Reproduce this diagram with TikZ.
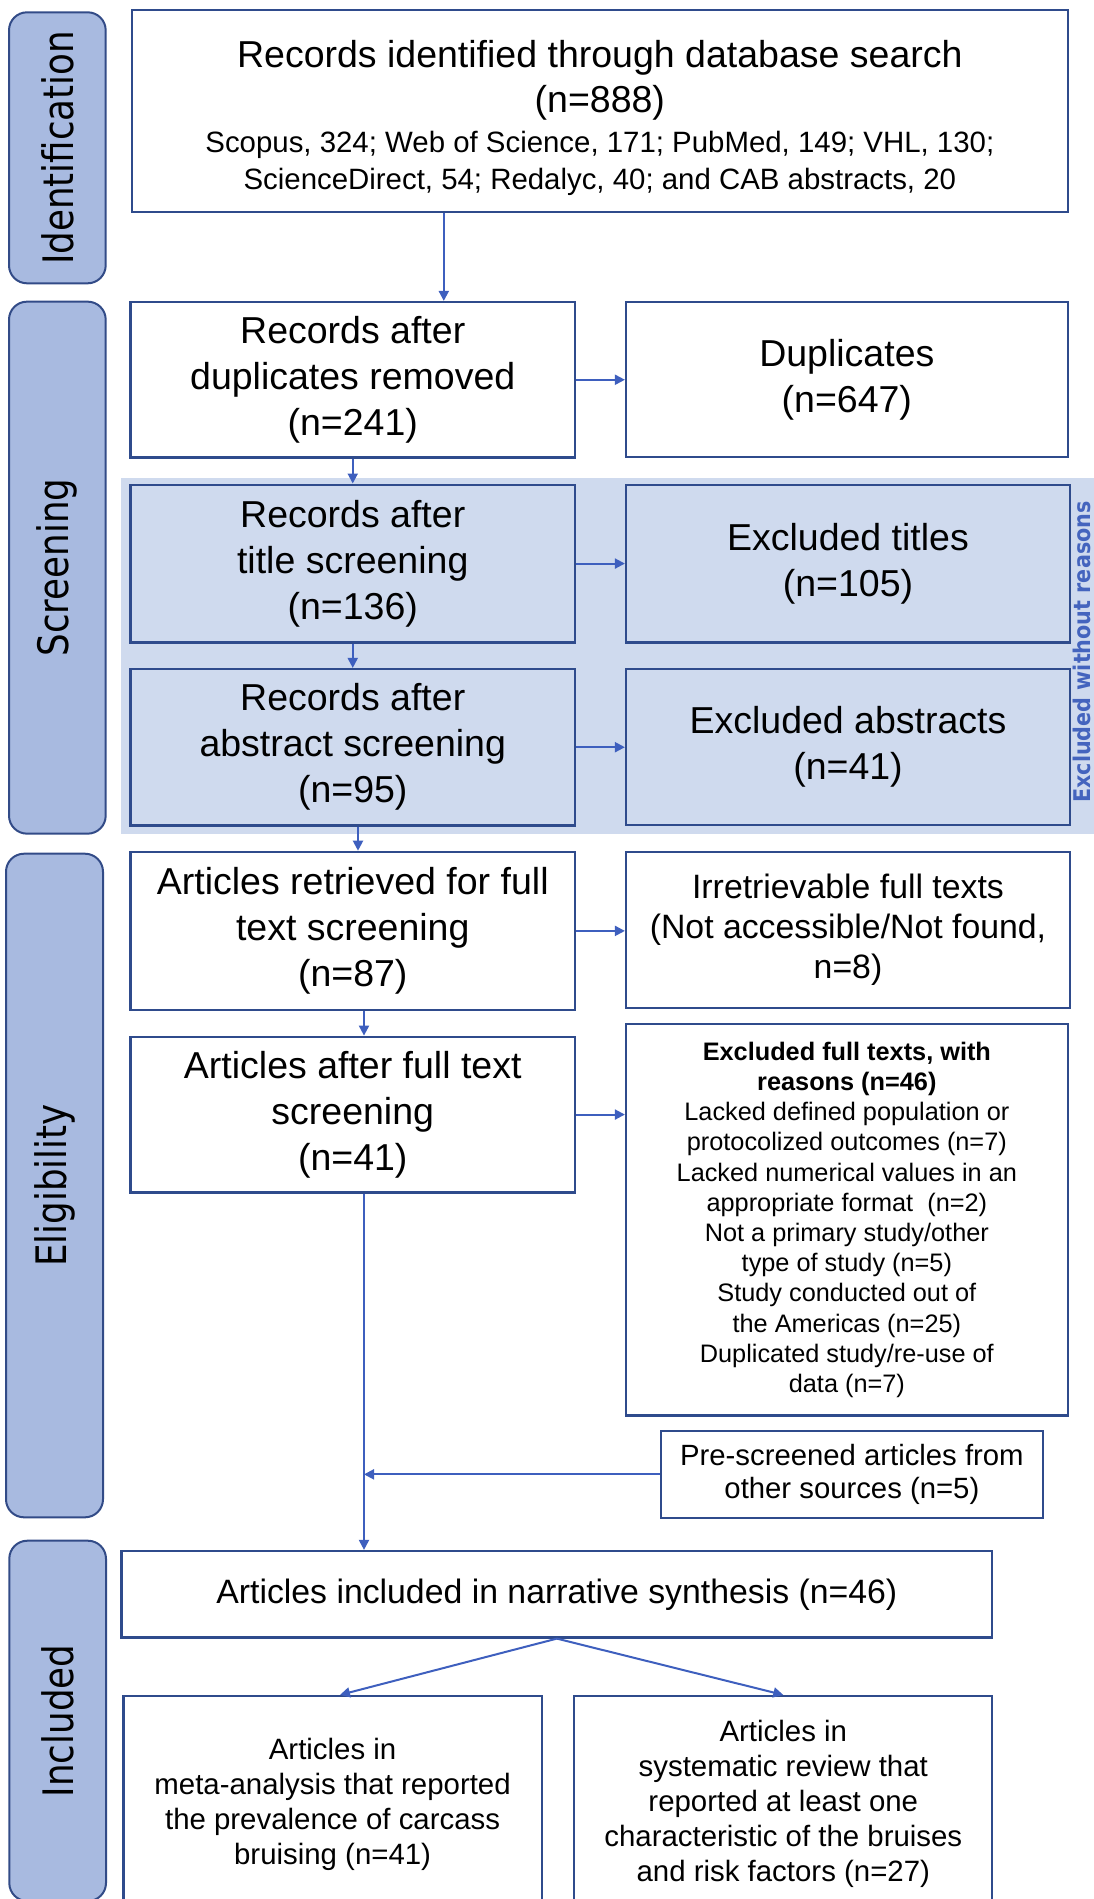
\documentclass[tikz,border=0pt]{standalone}
\usepackage{fontspec}
\setmainfont{Liberation Sans}
\newfontfamily\sidef{DejaVu Sans}
\usetikzlibrary{arrows.meta,calc}
\definecolor{boxc}{RGB}{47,75,140}
\definecolor{arrc}{RGB}{62,95,190}
\definecolor{labfill}{RGB}{168,186,224}
\definecolor{labdraw}{RGB}{50,75,135}
\definecolor{shadec}{RGB}{207,218,238}
\definecolor{exwr}{RGB}{68,100,190}
\newcommand\fmain{\fontsize{37.5}{46}\selectfont}
\newcommand\fsmall{\fontsize{29.4}{37}\selectfont}
\newcommand\fmid{\fontsize{33.8}{40}\selectfont}
\newcommand\fexc{\fontsize{25.3}{30.2}\selectfont}
\newcommand\fps{\fontsize{29.3}{33}\selectfont}
\newcommand\fbot{\fontsize{29.4}{35}\selectfont}
\newcommand\fside{\sidef\fontsize{42}{50}\selectfont}
\tikzset{
  box/.style={draw=boxc, line width=2.2pt, inner sep=0pt, align=center, text=black, font=\fmain},
  wbox/.style={box, fill=white},
  lab/.style={draw=labdraw, line width=2pt, fill=labfill, rounded corners=18pt, inner sep=0pt},
  labtext/.style={rotate=90, inner sep=0pt, font=\fside, text=black},
  arr/.style={draw=arrc, line width=2pt, -{Triangle[width=10pt,length=10pt]}}
}
\begin{document}
\begin{tikzpicture}[x=1pt,y=-1pt]
\useasboundingbox (0,0) rectangle (1094,1899);
\clip (0,0) rectangle (1094,1899);
% side labels
\node[lab, minimum width=96.7pt, minimum height=271pt] (lid) at (57.35,147.8) {};
\node[labtext] (lidt) at (lid.center) {\scalebox{0.85}[1]{Identification}};
\node[lab, minimum width=96.7pt, minimum height=532pt] (lscr) at (57.35,567.65) {};
\node[labtext] (lscrt) at (lscr.center) {\scalebox{0.85}[1]{Screening}};
\node[lab, minimum width=97pt, minimum height=663.6pt] (lel) at (54.5,1185.5) {};
\node[labtext] (lelt) at (lel.center) {\scalebox{0.85}[1]{Eligibility}};
\node[lab, minimum width=96.7pt, minimum height=360.3pt] (linc) at (57.65,1720.85) {};
\node[labtext] (linct) at (linc.center) {\scalebox{0.85}[1]{Included}};
% shaded band
\node[fill=shadec, inner sep=0pt, minimum width=980pt, minimum height=356.5pt, anchor=north west] (band) at (120.7,477.5) {};
\node[rotate=90, inner sep=0pt, text=exwr, font=\sidef\bfseries\fontsize{23}{28}\selectfont] (exwrt) at (1082,652) {\scalebox{0.9}[1]{Excluded without reasons}};
% boxes
\node[wbox, minimum width=935.7pt, minimum height=202pt] (top) at (599.85,111) {};
\node[inner sep=0pt, align=center, font=\fmain] (topt) at ($(top.center)+(0,7)$)
  {Records identified through database search\\[-1pt](n=888)\\[-6pt]\fsmall Scopus, 324; Web of Science, 171; PubMed, 149; VHL, 130;\\[-9pt]\fsmall ScienceDirect, 54; Redalyc, 40; and CAB abstracts, 20};
\node[wbox, minimum width=444.5pt, minimum height=155.5pt] (b1) at (352.75,379.75)
  {Records after\\duplicates removed\\(n=241)};
\node[wbox, minimum width=441.7pt, minimum height=155pt] (b1r) at (846.85,379.5)
  {Duplicates\\(n=647)};
\node[box, minimum width=444.5pt, minimum height=157.9pt] (b2) at (352.75,563.55)
  {Records after\\title screening\\(n=136)};
\node[box, minimum width=444pt, minimum height=157.9pt] (b2r) at (848,563.55)
  {Excluded titles\\(n=105)};
\node[box, minimum width=444.5pt, minimum height=156.4pt] (b3) at (352.75,747.2)
  {Records after\\abstract screening\\(n=95)};
\node[box, minimum width=444pt, minimum height=156pt] (b3r) at (848,747)
  {Excluded abstracts\\(n=41)};
\node[wbox, minimum width=444.5pt, minimum height=158.2pt] (b4) at (352.75,930.9)
  {Articles retrieved for full\\text screening\\(n=87)};
\node[wbox, minimum width=444pt, minimum height=156pt, font=\fmid] (b4r) at (848,930)
  {Irretrievable full texts\\(Not accessible/Not found,\\n=8)};
\node[wbox, minimum width=444.5pt, minimum height=155.7pt] (b5) at (352.75,1114.55)
  {Articles after full text\\screening\\(n=41)};
\node[wbox, minimum width=441.7pt, minimum height=391.5pt, font=\fexc] (b5r) at (846.85,1219.75)
  {\textbf{Excluded full texts, with}\\\textbf{reasons (n=46)}\\
   Lacked defined population or\\protocolized outcomes (n=7)\\
   Lacked numerical values in an\\appropriate format\ \ (n=2)\\
   Not a primary study/other\\type of study (n=5)\\
   Study conducted out of\\the Americas (n=25)\\
   Duplicated study/re-use of\\data (n=7)};
\node[wbox, minimum width=382.2pt, minimum height=86.7pt, font=\fps] (ps) at (851.9,1474.35)
  {Pre-screened articles from\\other sources (n=5)};
\node[wbox, minimum width=870.9pt, minimum height=86.5pt, font=\fmid] (nar) at (556.85,1594.25)
  {Articles included in narrative synthesis (n=46)};
\node[wbox, minimum width=418.2pt, minimum height=216pt, font=\fbot] (m1) at (332.6,1804)
  {Articles in\\meta-analysis that reported\\the prevalence of carcass\\bruising (n=41)};
\node[wbox, minimum width=418pt, minimum height=216pt, font=\fbot] (m2) at (783.3,1804)
  {Articles in\\systematic review that\\reported at least one\\characteristic of the bruises\\and risk factors (n=27)};
% connectors
\coordinate (xa) at (443.8,0);
\coordinate (xb) at (358,0);
\coordinate (xc) at (364,0);
\coordinate (xd) at (340,0);
\draw[arr] (top.south -| xa) -- (b1.north -| xa);
\draw[arr] (b1.east) -- (b1r.west |- b1.east);
\draw[arr] (b1.south) -- (b2.north);
\draw[arr] (b2.east) -- (b2r.west |- b2.east);
\draw[arr] (b2.south) -- (b3.north);
\draw[arr] (b3.east) -- (b3r.west |- b3.east);
\draw[arr] (b3.south -| xb) -- (b4.north -| xb);
\draw[arr] (b4.east) -- (b4r.west |- b4.east);
\draw[arr] (b4.south -| xc) -- (b5.north -| xc);
\draw[arr] (b5.east) -- (b5r.west |- b5.east);
\draw[arr] (b5.south -| xc) -- (nar.north -| xc);
\draw[arr] (ps.west) -- (ps.west -| xc);
\draw[arr] (nar.south) -- (m1.north -| xd);
\draw[arr] (nar.south) -- (m2.north);
\end{tikzpicture}
\end{document}
